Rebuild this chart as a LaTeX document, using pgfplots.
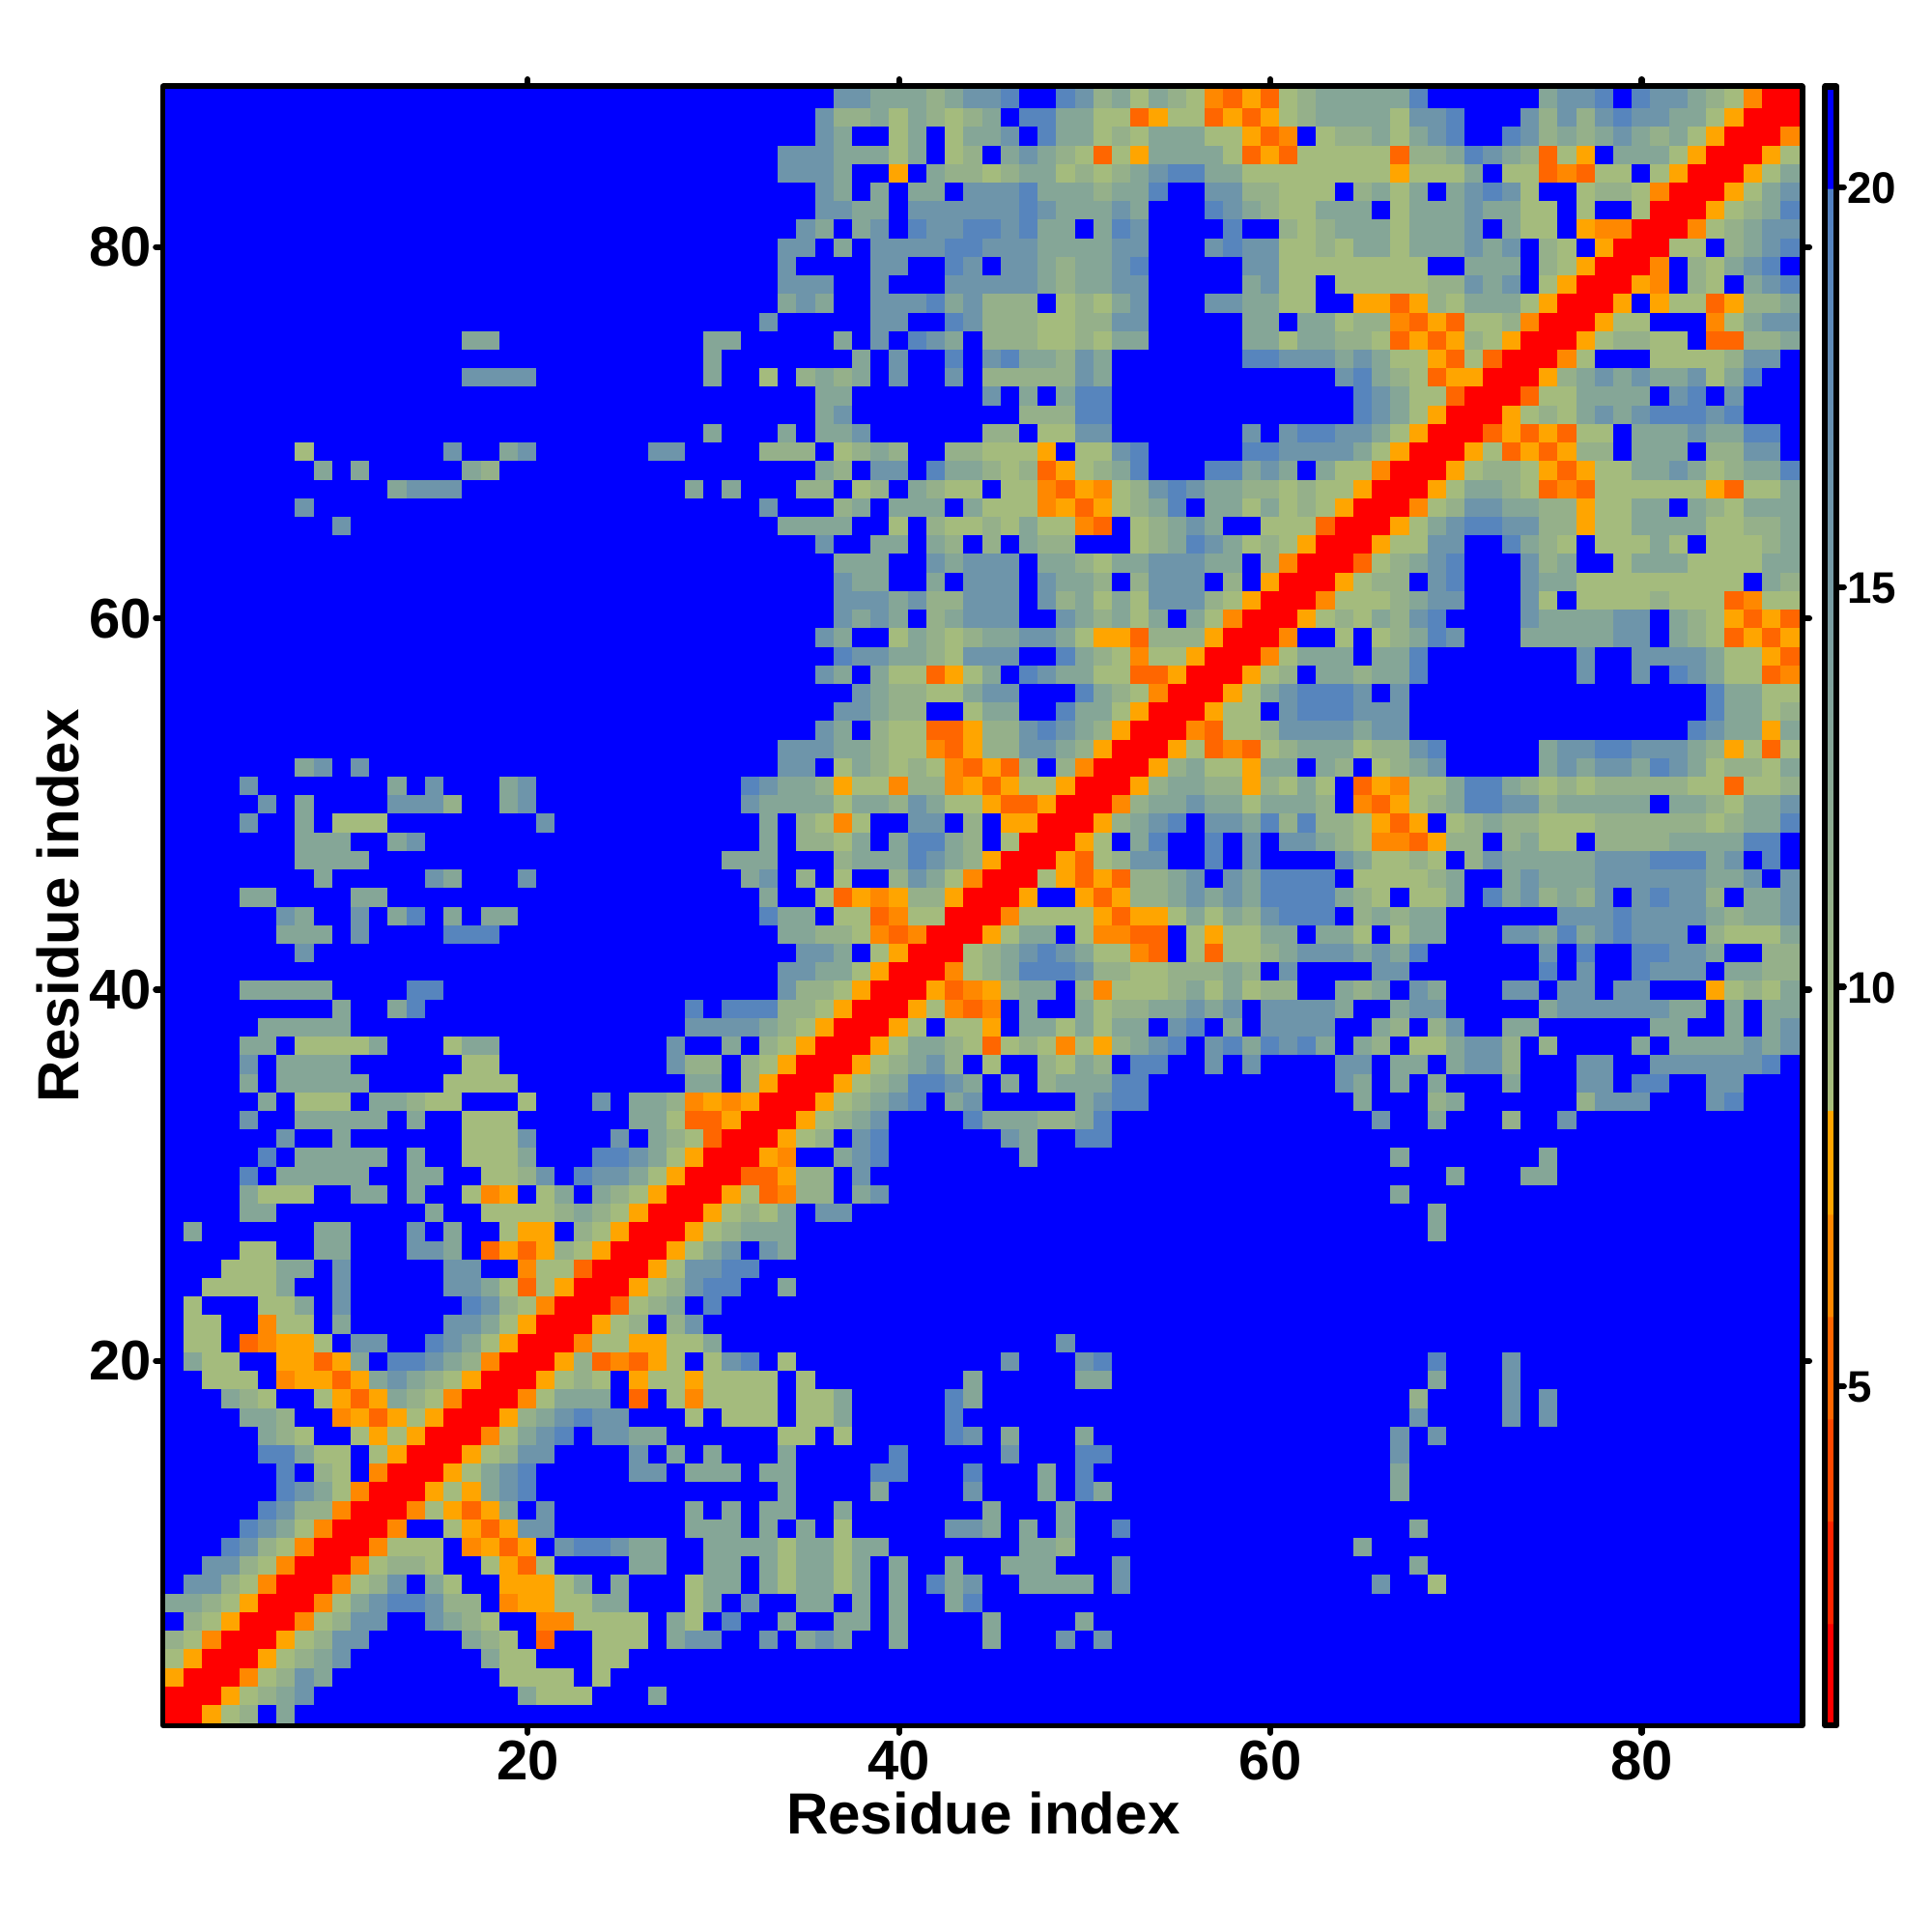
\documentclass[border=0pt]{standalone}
\usepackage{pgfplots}
\usepackage{pgfplotstable}
\usepackage{fontspec}
\setmainfont{Liberation Sans}
\pgfplotsset{compat=1.18}
\pgfplotstableread[header=false]{
1 1 8 9 11 21 13 21 21 21  21 21 21 21 21 21 21 21 21 21  21 21 21 21 21 21 21 21 21 21  21 21 21 21 21 21 21 21 21 21  21 21 21 21 21 21 21 21 21 21  21 21 21 21 21 21 21 21 21 21  21 21 21 21 21 21 21 21 21 21  21 21 21 21 21 21 21 21 21 21  21 21 21 21 21 21 21 21
1 1 1 8 9 11 13 16 21 21  21 21 21 21 21 21 21 21 21 13  9 9 9 21 21 21 13 21 21 21  21 21 21 21 21 21 21 21 21 21  21 21 21 21 21 21 21 21 21 21  21 21 21 21 21 21 21 21 21 21  21 21 21 21 21 21 21 21 21 21  21 21 21 21 21 21 21 21 21 21  21 21 21 21 21 21 21 21
8 1 1 1 6 9 11 16 13 21  21 21 21 21 21 21 21 21 9 9  9 9 21 9 21 21 21 21 21 21  21 21 21 21 21 21 21 21 21 21  21 21 21 21 21 21 21 21 21 21  21 21 21 21 21 21 21 21 21 21  21 21 21 21 21 21 21 21 21 21  21 21 21 21 21 21 21 21 21 21  21 21 21 21 21 21 21 21
9 8 1 1 1 8 9 11 13 16  21 21 21 21 21 21 21 13 9 9  21 21 21 9 9 21 21 21 21 21  21 21 21 21 21 21 21 21 21 21  21 21 21 21 21 21 21 21 21 21  21 21 21 21 21 21 21 21 21 21  21 21 21 21 21 21 21 21 21 21  21 21 21 21 21 21 21 21 21 21  21 21 21 21 21 21 21 21
11 9 6 1 1 1 8 9 11 16  16 21 21 21 21 21 13 11 9 21  5 21 21 9 9 9 21 13 16 16  21 21 16 21 13 16 13 21 21 13  21 21 21 21 13 21 21 21 16 21  16 21 21 21 21 21 21 21 21 21  21 21 21 21 21 21 21 21 21 21  21 21 21 21 21 21 21 21 21 21  21 21 21 21 21 21 21 21
21 11 9 8 1 1 1 6 9 11  16 16 21 21 16 13 11 9 21 21  6 6 9 9 9 9 21 13 9 21  19 21 21 13 21 21 13 13 21 13  21 21 21 21 13 21 21 21 21 13  21 21 21 21 21 21 21 21 21 21  21 21 21 21 21 21 21 21 21 21  21 21 21 21 21 21 21 21 21 21  21 21 21 21 21 21 21 21
13 13 11 9 8 1 1 1 6 9  13 16 19 19 16 11 11 21 6 8  8 9 9 13 13 21 21 21 9 13  21 16 21 21 13 13 21 13 21 13  21 21 13 19 21 21 21 21 21 21  21 21 21 21 21 21 21 21 21 21  21 21 21 21 21 21 21 21 21 21  21 21 21 21 21 21 21 21 21 21  21 21 21 21 21 21 21 21
21 16 16 11 9 6 1 1 1 6  9 11 16 21 13 9 21 21 8 8  8 9 13 21 13 21 21 21 9 13  13 21 13 9 13 13 9 13 21 13  21 19 13 16 21 21 13 13 13 13  21 16 21 21 21 21 21 21 21 21  21 21 21 21 21 16 21 21 9 21  21 21 21 21 21 21 21 21 21 21  21 21 21 21 21 21 21 21
21 21 16 16 11 9 6 1 1 1  6 9 11 11 9 21 21 9 8 5  9 21 21 21 21 13 13 21 21 13  13 21 13 9 13 13 9 13 21 13  21 21 13 21 21 13 13 13 21 21  21 16 21 21 21 21 21 21 21 21  21 21 21 21 21 21 21 13 21 21  21 21 21 21 21 21 21 21 21 21  21 21 21 21 21 21 21 21
21 21 21 19 16 11 9 6 1 1  1 6 9 9 9 21 6 8 5 8  21 16 19 19 16 13 13 21 21 13  13 13 13 9 13 13 9 13 13 21  21 21 21 21 21 21 13 13 11 21  21 21 21 21 21 21 21 21 21 21  21 21 21 21 13 21 21 21 21 21  21 21 21 21 21 21 21 21 21 21  21 21 21 21 21 21 21 21
21 21 21 21 19 16 13 9 6 1  1 1 6 21 21 9 8 5 8 16  16 21 21 21 21 21 21 21 13 13  13 21 13 21 13 21 9 21 21 21  21 21 16 16 13 21 13 21 13 21  21 19 21 21 21 21 21 21 21 21  21 21 21 21 21 21 21 13 21 21  21 21 21 21 21 21 21 21 21 21  21 21 21 21 21 21 21 21
21 21 21 21 21 19 16 11 11 6  1 1 1 6 9 8 5 8 13 21  16 21 21 21 21 21 21 21 13 21  13 21 13 13 21 21 13 21 21 21  21 21 21 21 13 21 21 21 13 21  21 21 21 21 21 21 21 21 21 21  21 21 21 21 21 21 21 21 21 21  21 21 21 21 21 21 21 21 21 21  21 21 21 21 21 21 21 21
21 21 21 21 21 21 19 16 13 9  6 1 1 1 8 9 8 13 16 19  21 21 21 21 21 21 21 21 21 21  21 21 21 13 21 21 21 21 13 21  21 21 21 16 21 21 21 13 21 19  13 21 21 21 21 21 21 21 21 21  21 21 21 21 21 21 13 21 21 21  21 21 21 21 21 21 21 21 21 21  21 21 21 21 21 21 21 21
21 21 21 21 21 21 19 21 11 9  21 6 1 1 1 8 9 13 16 19  21 21 21 21 21 16 16 21 13 13  13 21 13 13 21 21 21 21 19 19  21 21 21 19 21 21 21 13 21 19  21 21 21 21 21 21 21 21 21 21  21 21 21 21 21 21 13 21 21 21  21 21 21 21 21 21 21 21 21 21  21 21 21 21 21 21 21 21
21 21 21 21 21 19 19 13 9 9  21 9 8 1 1 1 8 9 11 16  16 21 21 21 21 16 21 13 21 13  21 21 21 13 21 21 21 21 21 19  21 21 21 21 21 16 21 21 21 19  19 21 21 21 21 21 21 21 21 21  21 21 21 21 21 21 16 21 21 21  21 21 21 21 21 21 21 21 21 21  21 21 21 21 21 21 21 21
21 21 21 21 21 13 11 9 21 21  9 8 9 8 1 1 1 6 9 13  16 19 21 16 16 13 13 21 21 21  21 21 21 9 9 21 9 21 21 21  21 21 19 16 21 13 21 21 21 13  21 21 21 21 21 21 21 21 21 21  21 21 21 21 21 21 16 21 16 21  21 21 21 21 21 21 21 21 21 21  21 21 21 21 21 21 21 21
21 21 21 21 13 13 11 21 21 6  8 5 8 9 8 1 1 1 8 11  13 16 19 16 16 21 21 21 9 21  9 9 9 21 9 9 13 21 21 21  21 21 19 21 21 21 21 21 21 21  21 21 21 21 21 21 21 21 21 21  21 21 21 21 21 21 21 16 21 21  21 21 16 21 16 21 21 21 21 21  21 21 21 21 21 21 21 21
21 21 21 13 11 9 21 21 9 8  5 8 13 11 9 6 1 1 1 6  9 13 13 13 21 5 21 9 6 9  9 9 9 21 9 9 13 21 21 21  21 21 19 13 21 21 21 21 21 21  21 21 21 21 21 21 21 21 21 21  21 21 21 21 21 21 21 11 21 21  21 21 16 21 16 21 21 21 21 21  21 21 21 21 21 21 21 21
21 21 9 9 9 21 6 8 8 5  8 13 16 13 11 9 8 1 1 1  8 9 11 9 21 8 9 9 8 9  9 9 9 21 9 21 21 21 21 21  21 21 21 13 21 21 21 21 21 13  13 21 21 21 21 21 21 21 21 21  21 21 21 21 21 21 21 21 13 21  21 21 16 21 21 21 21 21 21 21  21 21 21 21 21 21 21 21
21 13 9 9 21 21 8 8 5 8  13 21 19 19 16 13 11 6 1 1  1 8 11 5 6 5 8 9 21 9  16 19 21 9 21 21 21 21 21 21  21 21 21 21 21 16 21 21 21 16  19 21 21 21 21 21 21 21 21 21  21 21 21 21 21 21 21 21 19 21  21 21 16 21 21 21 21 21 21 21  21 21 21 21 21 21 21 21
21 9 9 21 5 6 8 8 9 21  16 16 21 21 19 16 13 9 8 1  1 1 6 9 9 8 8 9 9 13  21 21 21 21 21 21 21 21 21 21  21 21 21 21 21 21 21 21 16 21  21 21 21 21 21 21 21 21 21 21  21 21 21 21 21 21 21 21 21 21  21 21 21 21 21 21 21 21 21 21  21 21 21 21 21 21 21 21
21 9 9 21 21 6 9 9 21 13  21 21 21 21 21 16 16 13 9 8  1 1 1 8 9 11 21 11 16 21  21 21 21 21 21 21 21 21 21 21  21 21 21 21 21 21 21 21 21 21  21 21 21 21 21 21 21 21 21 21  21 21 21 21 21 21 21 21 21 21  21 21 21 21 21 21 21 21 21 21  21 21 21 21 21 21 21 21
21 9 21 21 21 9 9 13 21 16  21 21 21 21 21 21 19 16 11 9  6 1 1 1 5 9 11 13 21 19  21 21 21 21 21 21 21 21 21 21  21 21 21 21 21 21 21 21 21 21  21 21 21 21 21 21 21 21 21 21  21 21 21 21 21 21 21 21 21 21  21 21 21 21 21 21 21 21 21 21  21 21 21 21 21 21 21 21
21 21 9 9 9 9 13 21 21 16  21 21 21 21 21 16 16 13 9 5  9 8 1 1 1 8 9 11 16 19  19 21 21 13 21 21 21 21 21 21  21 21 21 21 21 21 21 21 21 21  21 21 21 21 21 21 21 21 21 21  21 21 21 21 21 21 21 21 21 21  21 21 21 21 21 21 21 21 21 21  21 21 21 21 21 21 21 21
21 21 21 9 9 9 13 13 21 16  21 21 21 21 21 16 16 21 21 6  9 9 5 1 1 1 8 9 16 16  19 19 21 21 21 21 21 21 21 21  21 21 21 21 21 21 21 21 21 21  21 21 21 21 21 21 21 21 21 21  21 21 21 21 21 21 21 21 21 21  21 21 21 21 21 21 21 21 21 21  21 21 21 21 21 21 21 21
21 21 21 21 9 9 21 21 13 13  21 21 21 16 16 13 21 5 8 5  8 11 9 8 1 1 1 8 9 13  16 21 16 13 21 21 21 21 21 21  21 21 21 21 21 21 21 21 21 21  21 21 21 21 21 21 21 21 21 21  21 21 21 21 21 21 21 21 21 21  21 21 21 21 21 21 21 21 21 21  21 21 21 21 21 21 21 21
21 13 21 21 21 21 21 21 13 13  21 21 21 16 21 13 21 21 9 8  8 21 11 9 8 1 1 1 8 9  11 13 13 13 21 21 21 21 21 21  21 21 21 21 21 21 21 21 21 21  21 21 21 21 21 21 21 21 21 21  21 21 21 21 21 21 21 21 13 21  21 21 21 21 21 21 21 21 21 21  21 21 21 21 21 21 21 21
21 21 21 21 13 13 21 21 21 21  21 21 21 21 13 21 21 9 9 9  9 11 13 11 9 8 1 1 1 8  9 11 9 13 21 16 16 21 21 21  21 21 21 21 21 21 21 21 21 21  21 21 21 21 21 21 21 21 21 21  21 21 21 21 21 21 21 21 13 21  21 21 21 21 21 21 21 21 21 21  21 21 21 21 21 21 21 21
21 21 21 21 13 9 9 9 21 21  13 13 21 13 21 21 9 6 8 21  9 13 21 13 11 9 8 1 1 1  8 9 5 6 11 11 21 13 16 21  21 21 21 21 21 21 21 21 21 21  21 21 21 21 21 21 21 21 21 21  21 21 21 21 21 21 13 21 21 21  21 21 21 21 21 21 21 21 21 21  21 21 21 21 21 21 21 21
21 21 21 21 19 21 13 13 13 13  13 21 21 13 13 21 21 9 9 11  16 21 19 16 16 13 9 8 1 1  1 5 5 8 11 11 21 16 21 21  21 21 21 21 21 21 21 21 21 21  21 21 21 21 21 21 21 21 21 21  21 21 21 21 21 21 21 21 21 13  21 21 21 13 13 21 21 21 21 21  21 21 21 21 21 21 21 21
21 21 21 21 21 19 21 13 13 13  13 13 21 13 21 21 9 9 9 13  21 21 21 19 19 16 13 9 8 1  1 1 8 6 21 21 13 16 19 21  21 21 21 21 21 21 13 21 21 21  21 21 21 21 21 21 21 21 21 21  21 21 21 21 21 21 13 21 21 21  21 21 21 21 13 21 21 21 21 21  21 21 21 21 21 21 21 21
21 21 21 21 21 21 16 21 21 13  21 21 21 21 21 21 9 9 9 16  21 21 21 21 16 21 13 11 9 5  1 1 1 8 9 11 21 16 19 21  21 21 21 21 21 16 13 21 21 19  19 21 21 21 21 21 21 21 21 21  21 21 21 21 21 21 21 21 21 21  21 21 21 21 21 21 21 21 21 21  21 21 21 21 21 21 21 21
21 21 21 21 16 21 21 13 13 13  13 13 21 13 21 21 9 9 9 21  21 21 21 21 21 13 13 9 5 5  8 1 1 1 8 9 11 13 16 21  21 21 21 19 13 13 13 11 11 13  19 21 21 21 21 21 21 21 21 21  21 21 21 21 21 16 21 21 13 21  21 21 11 21 21 16 21 21 21 21  21 21 21 21 21 21 21 21
21 21 21 21 21 13 21 9 9 9  21 13 13 11 9 9 21 21 21 9  21 21 21 16 21 13 13 11 6 8  6 8 1 1 1 8 9 11 13 16  19 21 13 16 21 21 21 21 21 13  16 19 19 21 21 21 21 21 21 21  21 21 21 21 13 21 21 21 11 13  21 21 21 21 21 21 11 16 16 16  21 21 21 16 19 21 21 21
21 21 21 21 13 21 13 13 13 13  13 21 21 21 21 9 9 9 9 21  21 21 21 21 21 21 21 21 13 13  21 11 8 1 1 1 8 9 11 13  19 19 16 13 21 13 21 11 13 13  13 19 19 21 21 21 21 21 21 21  21 21 21 16 13 21 13 21 13 21  21 21 13 21 21 21 16 16 21 19  19 21 21 16 16 21 21 21
21 21 21 21 16 21 13 13 13 13  21 21 21 21 21 21 9 9 21 21  21 21 21 21 21 21 21 16 11 11  21 11 9 8 1 1 1 8 9 11  13 16 11 21 9 21 21 11 9 13  11 21 19 19 21 21 16 21 16 21  21 21 21 16 16 21 13 13 21 13  16 16 11 21 21 21 16 16 21 21  16 16 16 16 16 16 19 21
21 21 21 21 13 13 21 9 9 9  9 13 21 21 21 9 13 13 21 21  21 21 21 21 21 21 21 16 21 21  13 21 11 9 8 1 1 1 8 9  13 13 11 9 5 9 11 9 6 9  8 11 13 16 19 21 16 19 13 19  16 19 13 21 13 11 21 9 9 13  16 16 11 21 11 21 21 21 21 13  21 13 13 13 13 16 13 16
21 21 21 21 21 13 13 13 13 13  21 21 21 21 21 21 21 21 21 21  21 21 21 21 21 21 21 21 16 16  16 16 13 11 9 8 1 1 1 8  9 21 9 9 8 21 13 13 9 13  9 13 13 21 16 19 21 13 21 16  16 16 16 21 21 13 11 21 11 16  21 21 13 13 21 21 21 21 21 21  13 13 21 21 13 21 13 16
21 21 21 21 21 21 21 21 21 13  21 21 13 19 21 21 21 21 21 21  21 21 21 21 21 21 21 21 19 21  19 19 19 11 11 9 8 1 1 1  8 9 6 5 6 21 13 21 21 13  9 11 11 13 13 16 13 16 21 16  16 16 16 13 21 21 13 16 16 21  21 21 21 21 13 16 16 16 16 16  16 13 13 21 13 21 13 13
21 21 21 21 13 13 13 13 13 21  21 21 21 19 19 21 21 21 21 21  21 21 21 21 21 21 21 21 21 21  21 21 21 16 11 11 9 8 1 1  1 8 5 6 8 11 13 13 21 11  6 9 9 9 11 13 9 13 9 11  11 21 21 13 11 13 21 16 13 21  21 21 16 16 21 16 16 21 16 16  21 21 21 8 9 11 9 13
21 21 21 21 21 21 21 21 21 21  21 21 21 21 21 21 21 21 21 21  21 21 21 21 21 21 21 21 21 21  21 21 21 16 16 13 13 9 8 1  1 1 6 9 11 13 19 19 19 16  11 11 9 9 11 11 11 13 11 21  16 21 21 21 21 16 16 21 21 21  21 21 21 21 19 21 16 21 21 19  16 16 16 21 13 13 11 11
21 21 21 21 21 21 21 16 21 21  21 21 21 21 21 21 21 21 21 21  21 21 21 21 21 21 21 21 21 21  21 21 21 21 16 16 13 21 9 8  1 1 1 9 11 13 16 19 16 13  9 9 6 5 21 9 5 9 9 11  13 16 16 16 13 16 13 19 21 21  21 21 21 21 16 21 19 21 21 19  19 16 16 13 21 21 11 11
21 21 21 21 21 21 13 13 13 21  16 21 21 21 21 19 19 19 21 21  21 21 21 21 21 21 21 21 21 21  21 21 21 13 13 11 11 9 6 5  6 1 1 1 8 9 13 13 21 9  6 6 5 5 21 9 8 9 9 13  13 21 13 13 9 21 9 13 13 21  21 21 16 16 13 19 13 16 19 16  16 16 21 11 9 9 9 13
21 21 21 21 21 21 16 13 21 21  16 21 13 19 21 13 21 13 13 21  21 21 21 21 21 21 21 21 21 21  21 21 19 13 13 21 9 9 5 6  9 9 1 1 1 6 9 9 9 9  8 5 8 8 9 13 9 13 11 16  19 19 19 21 11 13 11 13 13 21  21 21 21 21 21 16 16 16 19 16  16 16 16 13 11 13 13 16
21 21 21 21 13 13 21 21 21 21  13 13 21 21 21 21 21 21 21 21  21 21 21 21 21 21 21 21 21 21  21 21 13 21 21 9 5 8 6 8  11 11 8 1 1 1 8 21 21 8  5 8 11 11 13 16 13 16 13 19  19 19 19 13 11 9 21 9 9 13  21 19 13 16 11 13 11 16 21 16  19 16 16 11 21 13 13 16
21 21 21 21 21 21 21 21 13 21  21 21 21 21 16 13 21 21 21 16  21 21 21 21 21 21 21 21 21 21  21 13 16 21 11 21 9 21 21 11  16 13 9 6 1 1 1 9 8 5  8 5 11 11 13 16 21 16 13 19  19 19 19 21 9 9 9 9 11 13  21 21 13 16 13 13 13 16 16 16  16 16 16 13 13 16 21 16
21 21 21 21 21 21 21 13 13 13  13 21 21 21 21 21 21 21 21 21  21 21 21 21 21 21 21 21 21 21  13 13 13 21 21 21 11 13 13 13  19 16 13 11 8 1 1 1 8 5  9 11 16 16 21 21 19 21 16 21  21 21 21 16 13 9 9 11 9 21  11 16 13 13 13 13 13 16 16 16  19 19 19 13 16 21 19 21
21 21 21 21 21 21 21 13 13 13  21 21 13 16 21 21 21 21 21 21  21 21 21 21 21 21 21 21 21 21  21 21 13 21 11 11 9 13 21 13  19 19 13 11 21 9 1 1 1 8  9 21 13 19 21 21 19 21 16 21  16 16 13 11 9 6 6 5 8 11  11 21 11 13 9 9 21 11 11 11  11 13 13 13 13 19 19 21
21 21 21 21 16 21 21 13 21 9  9 9 21 21 21 21 21 21 21 21  16 21 21 21 21 21 21 21 21 21  21 21 13 21 11 9 6 9 21 21  16 16 21 11 21 8 8 1 1 1  8 11 13 16 19 21 16 16 13 19  11 19 11 11 9 8 5 8 21 9  11 13 11 11 9 9 9 11 11 11  11 11 11 9 11 13 13 19
21 21 21 21 21 16 21 13 21 21  21 21 16 16 16 11 21 21 13 16  21 21 21 21 21 21 21 21 21 21  21 16 13 13 13 13 9 13 13 11  16 13 9 9 8 5 5 8 1 1  1 6 11 13 13 16 13 13 9 13  13 13 11 21 6 5 8 9 11 13  19 19 16 16 11 13 13 13 13 13  21 13 13 11 9 13 13 16
21 21 21 21 16 21 21 21 21 21  21 21 13 21 16 21 21 21 13 16  21 21 21 21 21 21 21 21 21 21  21 19 16 13 13 11 8 9 9 6  11 11 6 8 5 8 9 9 8 1  1 1 8 11 13 13 11 11 8 11  9 13 9 21 5 8 6 9 9 13  19 19 13 11 9 11 9 11 11 11  11 11 9 9 5 9 9 11
21 21 21 21 21 21 21 13 16 21  16 21 21 21 21 21 21 21 21 21  21 21 21 21 21 21 21 21 21 21  21 21 21 16 16 21 9 13 11 9  11 9 6 5 8 5 11 21 11 6  1 1 1 8 11 13 9 9 8 13  13 21 13 11 21 9 11 13 16 21  21 21 21 21 13 16 13 16 16 13  19 16 13 9 11 11 9 13
21 21 21 21 21 21 21 21 21 21  21 21 21 21 21 21 21 21 21 21  21 21 21 21 21 21 21 21 21 21  21 21 21 16 16 16 13 13 11 9  9 6 5 8 11 11 16 16 13 11  8 1 1 1 8 9 5 6 5 9  11 13 13 13 9 11 11 16 19 21  21 21 21 21 13 16 16 19 19 16  16 16 13 11 8 9 5 9
21 21 21 21 21 21 21 21 21 21  21 21 21 21 21 21 21 21 21 21  21 21 21 21 21 21 21 21 21 21  21 21 21 21 21 16 13 21 11 9  9 5 5 8 11 11 16 19 16 13  11 8 1 1 1 6 5 9 9 11  16 16 16 16 13 16 16 21 21 21  21 21 21 21 21 21 21 21 21 21  21 21 19 16 13 13 8 13
21 21 21 21 21 21 21 21 21 21  21 21 21 21 21 21 21 21 21 21  21 21 21 21 21 21 21 21 21 21  21 21 21 21 21 21 16 16 13 11  11 21 21 9 13 13 21 21 19 13  13 9 8 1 1 1 8 9 9 21  16 19 19 19 16 16 16 21 21 21  21 21 21 21 21 21 21 21 21 21  21 21 21 19 13 13 9 11
21 21 21 21 21 21 21 21 21 21  21 21 21 21 21 21 21 21 21 21  21 21 21 21 21 21 21 21 21 21  21 21 21 21 21 21 21 16 13 11  11 9 9 13 16 16 21 21 21 19  13 11 9 6 1 1 1 8 9 13  16 19 19 19 16 21 16 21 21 21  21 21 21 21 21 21 21 21 21 21  21 21 21 19 13 13 9 9
21 21 21 21 21 21 21 21 21 21  21 21 21 21 21 21 21 21 21 21  21 21 21 21 21 21 21 21 21 21  21 21 21 21 21 16 13 21 13 9  9 5 8 9 13 21 19 16 13 13  9 9 5 5 8 1 1 1 8 9  11 21 13 13 11 13 13 19 21 21  21 21 21 21 21 21 16 21 21 16  21 19 16 13 9 9 5 6
21 21 21 21 21 21 21 21 21 21  21 21 21 21 21 21 21 21 21 21  21 21 21 21 21 21 21 21 21 21  21 21 21 21 21 21 19 16 16 13  13 11 9 16 16 16 21 21 19 13  11 9 6 9 9 8 1 1 1 6  9 13 13 13 21 13 13 19 21 21  21 21 21 21 21 21 16 21 21 16  16 16 16 13 9 9 8 5
21 21 21 21 21 21 21 21 21 21  21 21 21 21 21 21 21 21 21 21  21 21 21 21 21 21 21 21 21 21  21 21 21 21 21 16 13 21 21 9  13 11 9 11 13 13 16 16 13 9  8 8 5 11 11 11 8 1 1 1  6 21 21 9 21 9 11 13 19 16  21 21 21 13 13 13 13 13 16 16  21 13 11 9 5 8 5 8
21 21 21 21 21 21 21 21 21 21  21 21 21 21 21 21 21 21 21 21  21 21 21 21 21 21 21 21 21 21  21 21 21 21 21 21 16 13 16 13  21 11 13 16 16 16 21 21 16 13  11 13 9 13 21 13 9 6 1 1  1 8 9 11 9 13 11 16 19 21  21 21 21 16 13 13 13 13 16 16  21 13 11 9 8 5 8 5
21 21 21 21 21 21 21 21 21 21  21 21 21 21 21 21 21 21 21 21  21 21 21 21 21 21 21 21 21 21  21 21 21 21 21 21 16 16 16 13  16 11 11 16 16 16 21 16 11 13  9 13 9 16 16 16 11 9 8 1  1 1 6 9 9 9 11 13 16 16  21 21 21 16 9 21 9 9 9 9  11 9 9 9 5 6 9 9
21 21 21 21 21 21 21 21 21 21  21 21 21 21 21 21 21 21 21 21  21 21 21 21 21 21 21 21 21 21  21 21 21 21 21 21 16 13 13 21  21 13 21 16 16 16 21 16 13 13  11 21 11 16 16 16 21 11 21 8  1 1 1 8 9 11 11 21 16 19  21 21 21 16 13 13 9 9 9 9  9 9 9 9 9 21 13 11
21 21 21 21 21 21 21 21 21 21  21 21 21 21 21 21 21 21 21 21  21 21 21 21 21 21 21 21 21 21  21 21 21 21 21 21 13 13 13 21  21 16 13 16 16 16 21 13 13 11  9 13 13 16 16 16 13 13 21 11  6 1 1 1 5 9 11 13 16 19  21 21 21 16 11 13 21 21 9 13  13 13 9 9 9 9 13 13
21 21 21 21 21 21 21 21 21 21  21 21 21 21 21 21 21 21 21 21  21 21 21 21 21 21 21 21 21 21  21 21 21 21 21 16 21 21 13 13  21 13 11 21 11 21 13 11 11 21  21 21 9 11 13 19 16 13 9 11  9 8 1 1 1 8 9 9 16 16  21 21 19 13 11 9 21 9 9 9  13 9 21 9 9 9 11 13
21 21 21 21 21 21 21 21 21 16  21 21 21 21 21 21 21 21 21 21  21 21 21 21 21 21 21 21 21 21  21 21 21 13 13 13 13 21 21 9  21 11 9 9 11 9 13 9 9 6  5 21 9 11 13 16 13 21 21 9  9 9 5 1 1 1 8 9 13 16  19 19 16 16 11 11 8 9 9 13  13 13 13 9 9 11 11 13
21 21 21 21 21 21 21 16 21 21  21 21 21 21 21 21 21 21 21 21  21 21 21 21 21 21 21 21 21 21  21 21 16 21 21 21 11 13 21 13  13 13 21 13 9 9 9 6 8 5  8 9 11 13 19 21 13 13 9 13  9 11 9 8 1 1 1 6 9 11  16 16 13 13 11 11 8 9 9 13  13 21 13 11 9 13 13 13
21 21 21 21 21 21 21 21 21 21  21 21 13 16 16 16 21 21 21 21  21 21 21 21 21 21 21 21 13 21  13 21 21 21 11 11 21 9 11 21  13 11 9 9 21 9 9 6 5 8  6 9 11 16 19 16 13 13 11 11  9 11 9 9 8 1 1 1 8 9  13 13 11 9 5 6 5 9 9 9  9 9 9 8 5 9 9 13
21 21 21 21 21 21 21 21 13 21  13 21 21 21 21 21 13 11 21 21  21 21 21 21 21 21 21 21 21 21  21 21 21 21 21 13 11 21 16 16  21 19 13 13 11 9 11 5 8 9  11 13 19 21 21 21 19 19 13 16  13 21 13 9 9 6 1 1 1 8  9 11 11 9 8 5 8 9 9 13  13 16 13 9 11 13 13 19
21 21 21 21 21 21 21 9 21 21  21 21 21 21 21 16 21 21 13 16  21 21 21 21 21 21 16 16 21 21  21 21 11 11 11 21 9 11 13 11  21 21 11 11 9 9 9 8 21 9  9 16 19 21 21 21 21 21 19 19  16 16 16 16 13 9 8 1 1 1  8 9 5 8 5 8 11 11 21 13  13 13 21 11 11 16 16 21
21 21 21 21 21 21 21 21 21 21  21 21 21 21 21 21 21 21 21 21  21 21 21 21 21 21 21 21 21 13  21 21 21 13 21 13 13 16 21 21  21 21 21 21 11 11 21 9 9 16  16 21 21 21 21 21 21 21 16 21  16 19 19 16 16 13 9 8 1 1  1 5 8 5 8 5 9 9 21 13  13 13 16 13 13 19 19 21
21 21 21 21 21 21 21 21 21 21  21 21 21 21 21 21 21 21 21 21  21 21 21 21 21 21 21 21 21 21  21 21 21 21 21 13 16 21 21 21  21 21 21 21 21 21 11 11 11 19  19 21 21 21 21 21 21 21 21 21  21 21 21 21 19 16 13 9 8 1  1 1 8 9 11 9 13 16 13 16  19 19 19 16 19 21 21 21
21 21 21 21 21 21 21 21 21 21  21 21 21 21 21 21 21 21 21 21  21 21 21 21 21 21 21 21 21 21  21 21 21 21 21 13 13 21 21 21  21 21 21 21 16 21 13 21 13 19  19 21 21 21 21 21 21 21 21 21  21 21 21 21 19 16 13 9 9 5  1 1 1 5 9 9 13 13 13 13  21 16 19 21 16 21 21 21
21 21 21 21 21 21 21 21 21 21  21 21 21 21 21 21 16 16 16 16  21 21 21 21 21 21 21 21 21 13  21 21 9 21 11 13 11 13 21 16  21 21 16 21 11 11 11 11 11 16  13 21 21 21 21 21 21 21 21 21  21 21 21 16 19 13 11 9 5 8  8 1 1 1 8 11 13 16 13 16  13 13 16 9 13 19 21 21
21 21 21 21 21 21 21 21 21 21  21 21 21 21 21 21 21 21 21 21  21 21 21 21 21 21 21 21 21 13  21 21 21 21 21 21 21 13 21 16  21 21 19 21 16 19 13 13 11 16  13 21 21 21 21 21 21 21 19 19  16 16 16 13 16 13 9 9 8 5  9 5 1 1 1 6 9 21 21 21  9 9 9 9 11 16 16 21
21 21 21 21 21 21 21 21 21 21  21 21 21 21 21 21 13 13 21 21  21 21 21 21 21 21 21 21 21 13  13 21 21 21 21 21 13 21 16 21  19 16 13 21 11 11 11 9 9 11  9 13 13 21 21 21 21 21 13 13  9 13 13 11 11 9 5 8 5 8  11 9 8 1 1 1 8 9 11 11  9 9 21 5 5 11 11 13
21 21 21 21 21 21 21 21 21 21  21 21 21 21 21 21 21 21 21 21  21 21 21 21 21 21 21 21 21 21  21 21 16 21 21 21 21 21 16 16  21 21 19 16 11 11 11 9 9 11  11 16 16 21 21 21 21 21 13 13  21 13 13 9 11 11 6 5 8 5  9 9 11 6 1 1 1 8 9 9  21 21 21 6 9 13 16 16
21 21 21 21 21 21 21 21 21 21  21 21 21 21 21 21 21 21 21 21  21 21 21 21 21 21 21 21 21 21  21 21 21 13 16 13 21 21 16 16  16 19 13 16 11 11 11 21 9 11  9 13 16 21 21 21 16 16 13 13  9 9 21 21 8 8 5 8 11 9  13 13 13 9 8 1 1 1 8 21  8 9 9 5 8 11 11 13
21 21 21 21 21 21 21 21 21 21  21 21 21 21 21 21 21 21 21 21  21 21 21 21 21 21 21 21 21 21  21 21 21 16 16 16 21 21 16 21  21 21 16 16 16 16 16 13 11 13  13 16 16 21 21 21 21 21 13 16  9 9 21 9 9 9 9 9 11 11  16 13 16 21 9 8 1 1 1 8  6 21 11 9 21 13 16 19
21 21 21 21 21 21 21 21 21 21  21 21 21 21 21 21 21 21 21 21  21 21 21 21 21 21 21 21 21 21  21 21 21 16 21 21 21 21 16 16  21 21 19 16 21 16 16 13 11 13  13 16 19 21 21 21 21 21 16 16  9 9 9 9 9 9 9 9 21 21  13 13 13 21 11 9 8 1 1 1  6 21 11 9 13 16 19 21
21 21 21 21 21 21 21 21 21 21  21 21 21 21 21 21 21 21 21 21  21 21 21 21 21 21 21 21 21 21  21 21 21 16 16 21 13 21 16 16  16 16 19 19 16 16 16 13 13 13  13 16 16 21 21 21 16 19 16 16  9 9 11 9 13 13 9 13 13 13  16 13 16 21 11 9 21 8 1 1  1 9 9 21 11 13 16 19
21 21 21 21 21 21 21 21 21 21  21 21 21 21 21 21 21 21 21 21  21 21 21 21 21 21 21 21 21 21  21 21 21 21 16 13 21 13 16 21  19 16 16 19 19 16 19 13 13 21  13 19 16 21 21 21 21 19 21 21  11 9 11 13 13 13 9 13 13 13  16 21 13 9 9 21 8 6 6 1  1 1 6 9 11 13 16 16
21 21 21 21 21 21 21 21 21 21  21 21 21 21 21 21 21 21 21 21  21 21 21 21 21 21 21 21 21 21  21 21 21 21 21 16 16 13 13 21  16 16 16 16 16 16 19 16 13 13  13 16 13 21 21 21 19 16 13 11  9 9 13 13 13 21 9 13 13 13  16 13 13 9 9 21 9 21 21 9  1 1 1 8 9 11 13 19
21 21 21 21 21 21 21 21 21 21  21 21 21 21 21 21 21 21 21 21  21 21 21 21 21 21 21 21 21 21  21 21 21 21 21 16 13 21 13 21  13 13 21 16 16 16 19 13 13 13  11 13 13 19 21 21 16 16 11 11  9 9 9 21 11 13 9 13 21 13  16 19 16 9 21 21 9 11 11 9  6 1 1 1 8 9 13 16
21 21 21 21 21 21 21 21 21 21  21 21 21 21 21 21 21 21 21 21  21 21 21 21 21 21 21 21 21 21  21 21 21 16 16 16 13 21 21 8  21 13 11 11 9 11 13 13 9 11  9 11 13 16 19 19 13 13 9 9  9 9 9 9 9 9 8 9 9 9  13 21 9 9 5 6 5 9 9 21  9 8 1 1 1 8 9 13
21 21 21 21 21 21 21 21 21 21  21 21 21 21 21 21 21 21 21 21  21 21 21 21 21 21 21 21 21 21  21 21 21 16 16 16 13 13 13 9  13 21 9 11 21 13 16 13 11 9  5 9 8 13 13 13 13 9 5 8  5 9 9 9 9 9 5 11 11 13  19 16 13 11 5 9 8 21 13 13  13 9 8 1 1 1 8 9
21 21 21 21 21 21 21 21 21 21  21 21 21 21 21 21 21 21 21 21  21 21 21 21 21 21 21 21 21 21  21 21 21 21 21 16 13 21 21 9  13 21 9 13 13 16 21 19 13 13  9 11 9 13 13 13 9 9 8 5  6 21 9 11 11 13 9 13 16 19  21 21 19 16 11 13 11 13 16 13  11 13 9 8 1 1 1 6
21 21 21 21 21 21 21 21 21 21  21 21 21 21 21 21 21 21 21 21  21 21 21 21 21 21 21 21 21 21  21 21 21 21 21 16 11 11 13 9  13 11 9 11 13 21 19 19 13 13  9 9 5 8 9 9 5 8 5 8  9 11 13 13 13 13 9 16 16 19  21 21 21 16 11 16 11 16 19 16  16 13 13 9 8 1 1 1
21 21 21 21 21 21 21 21 21 21  21 21 21 21 21 21 21 21 21 21  21 21 21 21 21 21 21 21 21 21  21 21 21 21 21 21 16 16 13 13  13 11 13 16 16 19 21 21 19 16  11 13 9 13 11 9 6 5 8 5  9 11 13 13 13 13 13 19 21 21  21 21 21 21 13 16 16 19 21 19  16 16 13 11 9 6 1 1
}\datatable
\newcommand{\bigf}{\fontsize{16.5}{18}\selectfont\bfseries}
\newcommand{\labf}{\fontsize{17.1}{19}\selectfont\bfseries}
\newcommand{\smallf}{\fontsize{13}{15}\selectfont\bfseries}
\begin{document}
\begin{tikzpicture}
\path[fill=white,use as bounding box] (0,0) rectangle (200mm,200mm);
\begin{axis}[
  at={(16.88mm,21.37mm)}, anchor=south west,
  scale only axis, width=169.67mm, height=169.67mm,
  xmin=0.36, xmax=88.64, ymin=0.36, ymax=88.64,
  axis on top, clip=true,
  axis background/.style={fill=blue},
  axis line style={line width=0.62mm, line cap=round, line join=round},
  tick style={line width=0.62mm, line cap=round, black},
  tick align=outside, major tick length=0.75mm,
  xtick={20,40,60,80}, ytick={20,40,60,80},
  tick pos=both, xticklabel pos=lower, yticklabel pos=left,
  ticklabel style={font=\bigf, /pgf/number format/assume math mode=true},
  xticklabel style={inner sep=0pt, yshift=-0.8mm},
  yticklabel style={inner sep=0pt, xshift=-0.4mm},
  xlabel={\labf Residue index}, ylabel={\labf Residue index},
  every axis x label/.style={at={(axis description cs:0.5004,-0.0533)}, anchor=center},
  every axis y label/.style={at={(axis description cs:-0.0641,0.4999)}, anchor=center, rotate=90},
  point meta min=0.76, point meta max=21.26,
  colormap={res}{
    rgb255(0.76pt)=(255,0,0) rgb255(2.03pt)=(255,0,0)
    rgb255(2.04pt)=(255,36,0) rgb255(3.31pt)=(255,36,0)
    rgb255(3.32pt)=(255,72,0) rgb255(4.59pt)=(255,72,0)
    rgb255(4.60pt)=(255,102,0) rgb255(5.87pt)=(255,102,0)
    rgb255(5.88pt)=(255,136,0) rgb255(7.15pt)=(255,136,0)
    rgb255(7.16pt)=(255,165,0) rgb255(8.45pt)=(255,165,0)
    rgb255(8.46pt)=(168,190,122) rgb255(19.98pt)=(80,128,195)
    rgb255(19.99pt)=(0,0,255) rgb255(21.26pt)=(0,0,255)
  },
  colorbar,
  colorbar style={
    at={(1.014,1)}, anchor=north west,
    width=1.2mm,
    ytick={5,10,15,20},
    tick pos=right, yticklabel pos=right,
    axis line style={line width=0.62mm, line cap=round, line join=round},
    tick style={line width=0.62mm, line cap=round, black},
    tick align=outside, major tick length=0.75mm,
    yticklabel style={font=\smallf, inner sep=0pt, xshift=0.3mm, yshift=-0.1mm, /pgf/number format/assume math mode=true},
  },
]
\pgfplotsinvokeforeach{0,...,87}{
  \addplot[scatter, only marks, mark=square*, mark size=0.975mm,
    scatter src=explicit,
    scatter/use mapped color={draw=mapped color, fill=mapped color},
    mark options={line width=0pt}]
    table[x expr=#1+1, y expr=\coordindex+1, meta index=#1] {\datatable};
}
\end{axis}
\end{tikzpicture}
\end{document}
